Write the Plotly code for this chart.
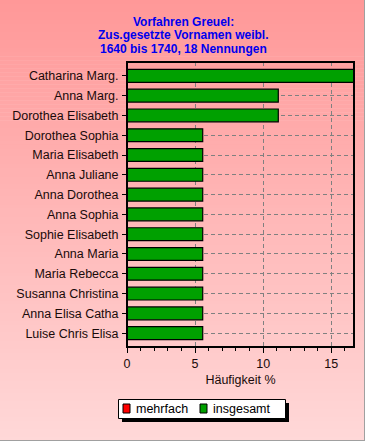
import plotly.graph_objects as go

names = ["Catharina Marg.", "Anna Marg.", "Dorothea Elisabeth", "Dorothea Sophia",
         "Maria Elisabeth", "Anna Juliane", "Anna Dorothea", "Anna Sophia",
         "Sophie Elisabeth", "Anna Maria", "Maria Rebecca", "Susanna Christina",
         "Anna Elisa Catha", "Luise Chris Elisa"]
insgesamt = [16.67, 11.11, 11.11, 5.56, 5.56, 5.56, 5.56, 5.56, 5.56, 5.56, 5.56, 5.56, 5.56, 5.56]
mehrfach = [0] * len(names)
title_lines = ["Vorfahren Greuel:", "Zus.gesetzte Vornamen weibl.", "1640 bis 1740, 18 Nennungen"]
x_ticks = [0, 5, 10, 15]
legend_names = ["mehrfach", "insgesamt"]
legend_colors = ["#ff0000", "#00a000"]

W, H = 365, 441
L, R, T, B = 127, 11, 62, 94
pw, ph = W - L - R, H - T - B

def px2x(px):
    return (px - L) / pw

def py2y(py):
    return 1 - (py - T) / ph

fig = go.Figure()
fig.add_trace(go.Bar(y=names, x=mehrfach, orientation="h", name=legend_names[0],
                     marker=dict(color=legend_colors[0], line=dict(color="black", width=1)),
                     width=0.65, showlegend=False))
fig.add_trace(go.Bar(y=names, x=insgesamt, orientation="h", name=legend_names[1],
                     marker=dict(color=legend_colors[1], line=dict(color="black", width=1.2)),
                     width=0.65, showlegend=False))

shapes = []
annotations = []
# gradient background
n = 110
top = (255, 152, 152)
bot = (255, 216, 216)
for i in range(n):
    f = i / (n - 1)
    c = tuple(round(top[k] + (bot[k] - top[k]) * f) for k in range(3))
    y0 = i * H / n
    y1 = (i + 1) * H / n + 0.6
    shapes.append(dict(type="rect", xref="paper", yref="paper",
                       x0=px2x(0), x1=px2x(W), y0=py2y(y1), y1=py2y(y0),
                       fillcolor="rgb(%d,%d,%d)" % c, line=dict(width=0), layer="below"))
# outer gray border (right, bottom)
shapes.append(dict(type="line", xref="paper", yref="paper", x0=px2x(W - 0.5), x1=px2x(W - 0.5),
                   y0=py2y(0), y1=py2y(H), line=dict(color="#a0a0a0", width=1)))
shapes.append(dict(type="line", xref="paper", yref="paper", x0=px2x(0), x1=px2x(W),
                   y0=py2y(H - 0.5), y1=py2y(H - 0.5), line=dict(color="#a0a0a0", width=1)))
# plot frame
shapes.append(dict(type="rect", xref="paper", yref="paper", x0=0, x1=1, y0=0, y1=1,
                   line=dict(color="black", width=2), layer="above"))

# manual legend: shadow, box, swatches, labels
shapes.append(dict(type="rect", xref="paper", yref="paper",
                   x0=px2x(122), x1=px2x(289), y0=py2y(422), y1=py2y(403),
                   fillcolor="black", line=dict(width=0), layer="above"))
shapes.append(dict(type="rect", xref="paper", yref="paper",
                   x0=px2x(118.5), x1=px2x(285.5), y0=py2y(418.5), y1=py2y(399.5),
                   fillcolor="white", line=dict(color="black", width=1), layer="above"))
sw_x = [123, 200]
tx_x = [134, 211]
for i in range(2):
    shapes.append(dict(type="rect", xref="paper", yref="paper",
                       x0=px2x(sw_x[i]), x1=px2x(sw_x[i] + 7), y0=py2y(413), y1=py2y(404),
                       fillcolor=legend_colors[i], line=dict(color="black", width=1), layer="above"))
    annotations.append(dict(text=legend_names[i], xref="paper", yref="paper",
                            x=px2x(tx_x[i]), y=py2y(409), xanchor="left", yanchor="middle",
                            showarrow=False, font=dict(size=12.5, color="black")))

# title lines
title_y = [22, 35.5, 49]
for t, yy in zip(title_lines, title_y):
    annotations.append(dict(text="<b>" + t + "</b>", xref="paper", yref="paper",
                            x=px2x(183), y=py2y(yy), xanchor="center", yanchor="middle",
                            showarrow=False, font=dict(size=12, color="#0000ee")))

font = "Liberation Sans, Arial, sans-serif"
fig.update_layout(
    width=W, height=H,
    margin=dict(l=L, r=R, t=T, b=B, pad=0),
    paper_bgcolor="rgba(0,0,0,0)",
    plot_bgcolor="rgba(0,0,0,0)",
    barmode="overlay",
    font=dict(family=font, size=12.5, color="#1a0a0a"),
    showlegend=False,
    shapes=shapes,
    annotations=annotations,
)
fig.update_xaxes(range=[0, 16.67], tickvals=x_ticks, ticks="outside", ticklen=5,
                 tickcolor="black", tickwidth=1, automargin=False,
                 minor=dict(dtick=1, ticks="outside", ticklen=3, tickcolor="black", showgrid=False),
                 showgrid=True, gridcolor="#808080", griddash="4px,3px", gridwidth=1,
                 zeroline=False, showline=False,
                 title=dict(text="Häufigkeit %", standoff=5, font=dict(size=12.5)),
                 tickfont=dict(size=12.5))
fig.update_yaxes(categoryorder="array", categoryarray=names, autorange=False, automargin=False,
                 range=[13.7, -0.7], ticks="outside", ticklen=4, tickcolor="black",
                 showgrid=True, gridcolor="#808080", griddash="4px,3px", gridwidth=1,
                 showline=False, zeroline=False, tickfont=dict(size=12.5), ticklabelstandoff=1)

fig.write_html("out.html", config={"displayModeBar": False},
               post_script="document.body.style.margin='0';document.body.style.overflow='hidden';")
